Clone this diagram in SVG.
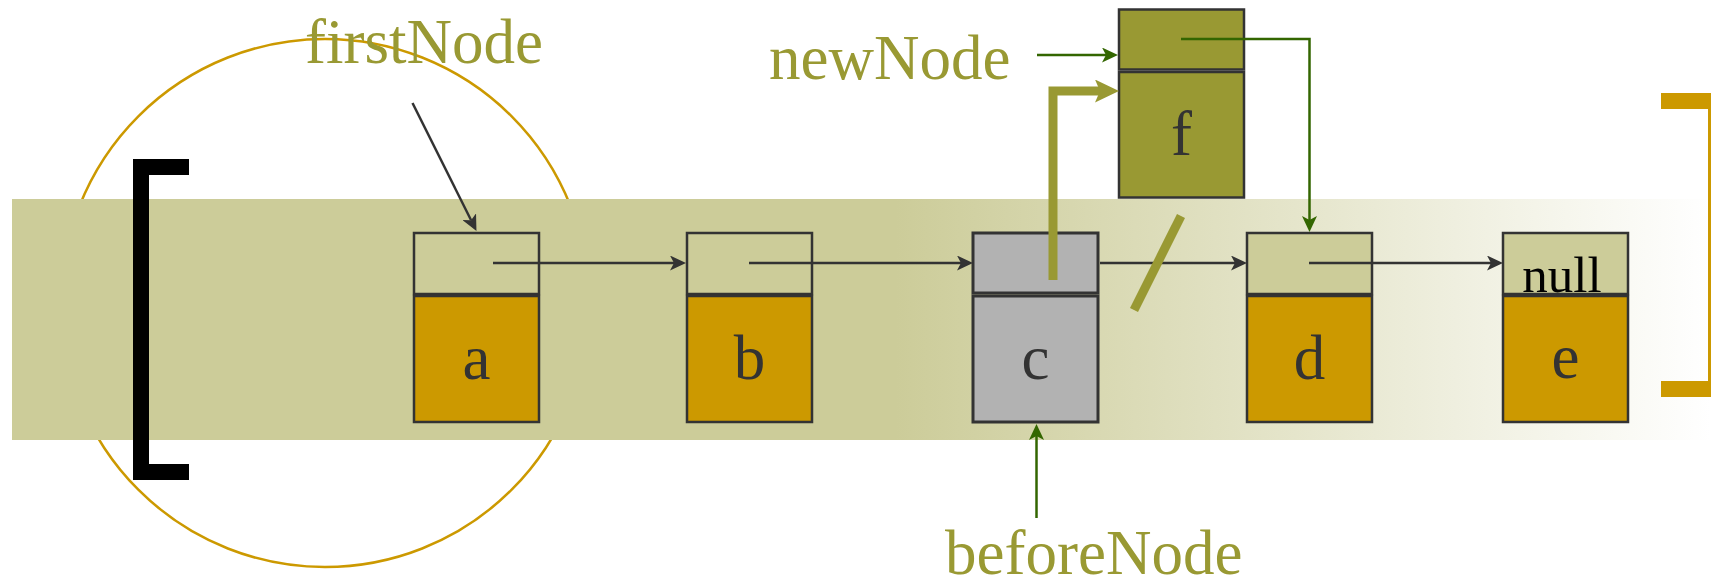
<svg xmlns="http://www.w3.org/2000/svg" width="1711" height="580" viewBox="0 0 1711 580">
  <style>
    .ptr { fill: #CCCC99; stroke: #333333; stroke-width: 2.5; }
    .dat { fill: #CC9900; stroke: #333333; stroke-width: 2.5; }
    .cur { fill: #B2B2B2; stroke: #333333; stroke-width: 3; }
    .new { fill: #999933; stroke: #333333; stroke-width: 2.5; }
    .val { font-family: "Liberation Serif", "Times New Roman", serif; font-size: 63px; fill: #333333; text-anchor: middle; }
    .lbl { font-family: "Liberation Serif", "Times New Roman", serif; font-size: 63px; fill: #999933; }
    .link { fill: none; stroke: #333333; stroke-width: 2.5; }
    .ref { fill: none; stroke: #336600; stroke-width: 2.5; }
  </style>
  <defs>
    <linearGradient id="bandFill" x1="12" y1="0" x2="1711" y2="0" gradientUnits="userSpaceOnUse">
      <stop offset="0" stop-color="#CCCC99"/>
      <stop offset="0.52" stop-color="#CCCC99"/>
      <stop offset="1" stop-color="#FFFFFF"/>
    </linearGradient>
    <marker id="headDark" markerUnits="userSpaceOnUse" viewBox="0 0 16 15" markerWidth="16" markerHeight="15" refX="4" refY="7.5" orient="auto">
      <path d="M0,0 L16,7.5 L0,15 L4,7.5 z" fill="#333333"/>
    </marker>
    <marker id="headGreen" markerUnits="userSpaceOnUse" viewBox="0 0 16 15" markerWidth="16" markerHeight="15" refX="4" refY="7.5" orient="auto">
      <path d="M0,0 L16,7.5 L0,15 L4,7.5 z" fill="#336600"/>
    </marker>
    <marker id="headOlive" markerUnits="userSpaceOnUse" viewBox="0 0 24 23" markerWidth="24" markerHeight="23" refX="5" refY="11.5" orient="auto">
      <path d="M0,0 L24,11.5 L0,23 L5,11.5 z" fill="#999933"/>
    </marker>
  </defs>

  <!-- backdrop: ring, band and brackets -->
  <g id="backdrop">
    <circle cx="325" cy="303" r="264" fill="none" stroke="#CC9900" stroke-width="2.5"/>
    <rect x="12" y="199" width="1699" height="241" fill="url(#bandFill)"/>
    <path d="M189,167 H141 V472 H189" fill="none" stroke="#000000" stroke-width="16"/>
    <path d="M1661,101 H1716 V389 H1661" fill="none" stroke="#CC9900" stroke-width="16"/>
  </g>

  <!-- list nodes -->
  <g id="node-a">
    <rect class="ptr" x="414" y="233" width="125" height="61"/>
    <rect class="dat" x="414" y="296" width="125" height="126"/>
    <text class="val" x="476.5" y="379">a</text>
  </g>
  <g id="node-b">
    <rect class="ptr" x="687" y="233" width="125" height="61"/>
    <rect class="dat" x="687" y="296" width="125" height="126"/>
    <text class="val" x="749.5" y="379">b</text>
  </g>
  <g id="node-c">
    <rect class="cur" x="973" y="233" width="125" height="60"/>
    <rect class="cur" x="973" y="296" width="125" height="126"/>
    <text class="val" x="1035.5" y="379">c</text>
  </g>
  <g id="node-d">
    <rect class="ptr" x="1247" y="233" width="125" height="61"/>
    <rect class="dat" x="1247" y="296" width="125" height="126"/>
    <text class="val" x="1309.5" y="379">d</text>
  </g>
  <g id="node-e">
    <rect class="ptr" x="1503" y="233" width="125" height="61"/>
    <rect class="dat" x="1503" y="296" width="125" height="126"/>
    <text x="1562" y="292" font-family="Liberation Serif, Times New Roman, serif" font-size="51" fill="#000000" text-anchor="middle">null</text>
    <text class="val" x="1565.5" y="378">e</text>
  </g>
  <g id="node-f">
    <rect class="new" x="1119" y="9.5" width="125" height="60"/>
    <rect class="new" x="1119" y="72" width="125" height="125.5"/>
    <text class="val" x="1181.5" y="155">f</text>
  </g>

  <!-- reference labels -->
  <g id="label-firstNode"><text class="lbl" x="305" y="63">firstNode</text></g>
  <g id="label-newNode"><text class="lbl" x="769" y="79">newNode</text></g>
  <g id="label-beforeNode"><text class="lbl" x="945" y="574">beforeNode</text></g>

  <!-- connectors -->
  <g id="connectors">
    <path class="link" d="M412.5,103 L471.1,220.3" marker-end="url(#headDark)"/>
    <path class="link" d="M493,263 H674" marker-end="url(#headDark)"/>
    <path class="link" d="M749,263 H961" marker-end="url(#headDark)"/>
    <path class="link" d="M1100,263 H1235" marker-end="url(#headDark)"/>
    <path class="link" d="M1309,263 H1491" marker-end="url(#headDark)"/>
    <path class="ref" d="M1037,55 H1106" marker-end="url(#headGreen)"/>
    <path class="ref" d="M1181,39 H1309.5 V220" marker-end="url(#headGreen)"/>
    <path class="ref" d="M1036.5,518 V436" marker-end="url(#headGreen)"/>
    <path d="M1053,280 V91 H1100" fill="none" stroke="#999933" stroke-width="9" marker-end="url(#headOlive)"/>
    <line x1="1181" y1="216" x2="1134" y2="310" stroke="#999933" stroke-width="9"/>
  </g>
</svg>
